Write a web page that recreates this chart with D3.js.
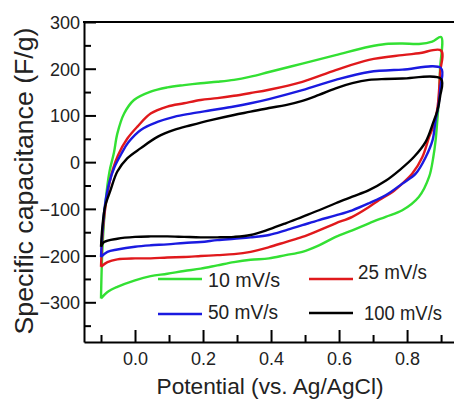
<!DOCTYPE html>
<html>
<head>
<meta charset="utf-8">
<script src="https://cdn.jsdelivr.net/npm/d3@7"></script>
<style>
  html, body { margin: 0; padding: 0; background: #fff; }
  svg { display: block; font-family: "Liberation Sans", Arial, sans-serif; }
</style>
</head>
<body>
<svg id="chart" width="454" height="402"></svg>
<script>
// Cyclic voltammetry loops: potential (V vs. Ag/AgCl) and specific capacitance (F/g).
// Each loop starts at -0.1 V, sweeps anodically to 0.9 V and returns.
const scanRates = ["10 mV/s", "25 mV/s", "50 mV/s", "100 mV/s"];
const seriesColors = ["#33e033", "#e0191c", "#1a1ae0", "#000000"];

const potential10 = [-0.1,-0.096,-0.086,-0.075,-0.062,-0.052,-0.032,-0.003,0.046,0.095,
  0.144,0.193,0.242,0.291,0.34,0.394,0.492,0.59,0.688,0.737,0.786,0.835,0.874,0.9,
  0.897,0.894,0.889,0.884,0.877,0.865,0.835,0.786,0.737,0.688,0.639,0.59,0.541,0.492,0.443,0.394,
  0.34,0.291,0.242,0.193,0.144,0.095,0.046,0,-0.052,-0.081,-0.1];
const capacitance10 = [-292,-189,-81,-20,20,61,104,133,151,160,
  165,169,172,176,183,193,211,229,247,253,254,253,258,268,
  200,140,90,47,10,-31,-74,-103,-117,-131,-146,-160,-178,-192,-199,-206,
  -209,-214,-221,-228,-233,-239,-244,-253,-267,-278,-292];

const potential25 = [-0.1,-0.095,-0.087,-0.078,-0.065,-0.05,-0.023,0.007,0.046,0.095,
  0.144,0.193,0.242,0.291,0.34,0.394,0.492,0.59,0.688,0.786,0.835,0.9,
  0.897,0.89,0.879,0.865,0.845,0.816,0.786,0.757,0.718,0.688,0.639,0.59,0.541,0.492,0.443,0.394,
  0.34,0.291,0.242,0.193,0.144,0.095,0.046,0,-0.052,-0.081,-0.1];
const capacitance25 = [-224,-150,-95,-55,-15,15,50,76,104,119,
  126,133,137,142,148,155,172,197,219,229,233,239,
  190,120,80,54,11,-24,-46,-64,-81,-96,-117,-131,-146,-160,-171,-182,
  -192,-197,-199,-201,-203,-204,-206,-206,-208,-214,-224];

const potential50 = [-0.1,-0.096,-0.088,-0.076,-0.06,-0.04,-0.02,0.017,0.066,0.115,
  0.164,0.223,0.291,0.34,0.394,0.492,0.59,0.688,0.786,0.9,
  0.898,0.892,0.884,0.875,0.855,0.826,0.786,0.737,0.688,0.639,0.59,0.541,0.492,0.443,0.394,
  0.34,0.291,0.242,0.193,0.144,0.095,0.046,0,-0.052,-0.081,-0.1];
const capacitance50 = [-203,-150,-90,-45,-10,18,42,69,86,97,
  104,111,119,126,135,154,176,193,198,201,
  160,120,90,47,11,-24,-46,-71,-88,-103,-114,-124,-135,-146,-156,
  -161,-164,-167,-171,-173,-176,-178,-181,-187,-192,-203];

const potential100 = [-0.1,-0.096,-0.088,-0.072,-0.052,-0.023,0.017,0.066,0.115,0.164,
  0.223,0.291,0.34,0.394,0.443,0.492,0.541,0.59,0.639,0.688,0.737,0.786,0.9,
  0.897,0.889,0.877,0.855,0.82,0.778,0.737,0.688,0.639,0.59,0.541,0.492,0.443,0.394,
  0.34,0.291,0.242,0.193,0.144,0.095,0.046,0,-0.052,-0.091,-0.1];
const capacitance100 = [-181,-139,-95,-60,-20,8,30,54,69,79,
  90,101,108,116,122,131,144,158,169,176,178,179,178,
  140,110,85,44,11,-17,-40,-60,-74,-88,-103,-117,-131,-144,
  -156,-160,-161,-161,-160,-159,-159,-160,-164,-171,-181];

const xMajorTicks = [0.0, 0.2, 0.4, 0.6, 0.8];
const xMinorTicks = [-0.1, 0.1, 0.3, 0.5, 0.7, 0.9];
const yMajorTicks = [-300, -200, -100, 0, 100, 200, 300];
const yMinorTicks = [-350, -250, -150, -50, 50, 150, 250];

const potentials = [potential10, potential25, potential50, potential100];
const capacitances = [capacitance10, capacitance25, capacitance50, capacitance100];

const svg = d3.select("#chart");
const plotLeft = 84, plotRight = 454, plotTop = 22, plotBottom = 342;

const x = d3.scaleLinear().domain([-0.15, 0.938]).range([plotLeft, plotRight]);
const y = d3.scaleLinear().domain([-385, 300]).range([plotBottom, plotTop]);

// CV loops
const line = d3.line()
  .x(d => x(d[0]))
  .y(d => y(d[1]))
  .curve(d3.curveCatmullRom.alpha(0.5));

const plot = svg.append("g").attr("class", "loops");
scanRates.forEach((rate, i) => {
  const pts = potentials[i].map((v, k) => [v, capacitances[i][k]]);
  plot.append("path")
    .datum(pts)
    .attr("d", line)
    .attr("fill", "none")
    .attr("stroke", seriesColors[i])
    .attr("stroke-width", 2.4)
    .attr("stroke-linejoin", "round");
});

// Axes with inward ticks
const axisStyle = g => {
  g.select(".domain").attr("stroke", "#000").attr("stroke-width", 2);
  g.selectAll(".tick line").attr("stroke", "#000").attr("stroke-width", 2);
};

const xAxis = svg.append("g")
  .attr("transform", `translate(0,${plotBottom})`)
  .call(d3.axisBottom(x).tickValues(xMajorTicks).tickSizeInner(-12).tickSizeOuter(0)
    .tickFormat(d3.format(".1f")))
  .call(axisStyle);
xAxis.selectAll(".tick text")
  .attr("y", 23).attr("dy", 0)
  .attr("font-size", 18).attr("fill", "#222")
  .attr("font-family", "'Liberation Sans', Arial, sans-serif");

svg.append("g")
  .attr("transform", `translate(0,${plotBottom})`)
  .call(d3.axisBottom(x).tickValues(xMinorTicks).tickSizeInner(-7).tickSizeOuter(0).tickFormat(""))
  .call(axisStyle)
  .select(".domain").remove();

const yAxis = svg.append("g")
  .attr("transform", `translate(${plotLeft},0)`)
  .call(d3.axisLeft(y).tickValues(yMajorTicks).tickSizeInner(-12).tickSizeOuter(0))
  .call(axisStyle);
yAxis.selectAll(".tick text")
  .attr("x", -4).attr("dy", "0.36em")
  .attr("font-size", 18).attr("fill", "#222")
  .attr("font-family", "'Liberation Sans', Arial, sans-serif");

svg.append("g")
  .attr("transform", `translate(${plotLeft},0)`)
  .call(d3.axisLeft(y).tickValues(yMinorTicks).tickSizeInner(-7).tickSizeOuter(0).tickFormat(""))
  .call(axisStyle)
  .select(".domain").remove();

// top frame line
svg.append("line")
  .attr("x1", plotLeft - 1).attr("x2", plotRight)
  .attr("y1", plotTop).attr("y2", plotTop)
  .attr("stroke", "#000").attr("stroke-width", 2);

// Axis titles
svg.append("text")
  .attr("x", 270).attr("y", 394)
  .attr("text-anchor", "middle")
  .attr("font-size", 22)
  .attr("fill", "#222")
  .attr("textLength", 227).attr("lengthAdjust", "spacingAndGlyphs")
  .text("Potential (vs. Ag/AgCl)");

svg.append("text")
  .attr("transform", "translate(33,181) rotate(-90)")
  .attr("text-anchor", "middle")
  .attr("font-size", 26)
  .attr("fill", "#222")
  .attr("textLength", 307).attr("lengthAdjust", "spacingAndGlyphs")
  .text("Specific capacitance (F/g)");

// Legend
const legendItems = [
  { lx: 158, ly: 279, tx: 208, ty: 287, tw: 72 },
  { lx: 309, ly: 279, tx: 358, ty: 279, tw: 69 },
  { lx: 158, ly: 314, tx: 208, ty: 319, tw: 70 },
  { lx: 309, ly: 313, tx: 364, ty: 320, tw: 78 }
];
const legend = svg.append("g").attr("class", "legend");
scanRates.forEach((rate, i) => {
  const p = legendItems[i];
  legend.append("line")
    .attr("x1", p.lx).attr("x2", p.lx + 44)
    .attr("y1", p.ly).attr("y2", p.ly)
    .attr("stroke", seriesColors[i]).attr("stroke-width", 2.6);
  legend.append("text")
    .attr("x", p.tx).attr("y", p.ty)
    .attr("font-size", 20).attr("fill", "#222")
    .attr("textLength", p.tw).attr("lengthAdjust", "spacingAndGlyphs")
    .text(rate);
});
</script>
</body>
</html>
